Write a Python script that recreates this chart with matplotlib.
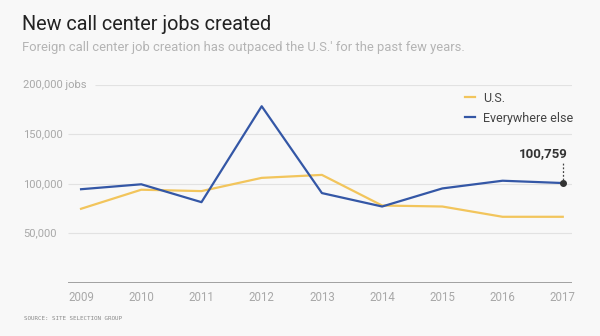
import matplotlib.pyplot as plt

# Yearly new call center jobs
years = [2009, 2010, 2011, 2012, 2013, 2014, 2015, 2016, 2017]
us_jobs = [74700, 94000, 92600, 106000, 109000, 78000, 77000, 66600, 66600]
elsewhere_jobs = [94500, 99500, 81400, 178500, 90600, 77000, 95300, 103100, 100759]

ytick_values = [50000, 100000, 150000, 200000]
ytick_labels = ["50,000", "100,000", "150,000", "200,000 jobs"]

bg = "#f8f8f8"
yellow = "#f2c55c"
blue = "#3457a6"
grey = "#a8a8a8"

plt.rcParams["font.family"] = ["Roboto", "DejaVu Sans"]

fig = plt.figure(figsize=(6, 3.36), dpi=100, facecolor=bg)
ax = fig.add_axes([0.113, 0.159, 0.84, 0.588], facecolor=bg)

ax.set_xlim(2008.78, 2017.15)
ax.set_ylim(0, 200000)

# Horizontal gridlines; the top one starts after its "jobs" label
for v in ytick_values:
    x0 = 2009.23 if v == 200000 else 2008.78
    ax.hlines(v, x0, 2017.15, color="#e2e2e2", lw=0.8, zorder=1)
ax.axhline(0, color="#9a9a9a", lw=1.3, zorder=2)

ax.plot(years, us_jobs, color=yellow, lw=1.6, label="U.S.", zorder=3)
ax.plot(years, elsewhere_jobs, color=blue, lw=1.6, label="Everywhere else", zorder=4)

# Callout on the last point
last_x, last_y = years[-1], elsewhere_jobs[-1]
ax.plot([last_x], [last_y], "o", color="#333333", ms=4, zorder=5)
ax.vlines(last_x, last_y + 3000, last_y + 20000, color="#444444", lw=0.9,
          linestyles=(0, (1.5, 1.5)), zorder=5)
ax.text(last_x + 0.08, last_y + 23000, f"{last_y:,}", ha="right", va="bottom",
        fontsize=9.5, fontweight="bold", color="#333333")

for s in ax.spines.values():
    s.set_visible(False)
ax.set_xticks(years)
ax.set_xticklabels([str(y) for y in years], fontsize=8.3, color=grey)
ax.tick_params(axis="x", length=0, pad=6)
ax.set_yticks([])

for v, lab in zip(ytick_values, ytick_labels):
    ax.text(0.038, ax.transData.transform((0, v))[1] / fig.bbox.height, lab,
            transform=fig.transFigure, ha="left", va="center",
            fontsize=8, color=grey)

leg = ax.legend(loc="upper left", bbox_to_anchor=(0.775, 0.727),
                bbox_transform=fig.transFigure, frameon=False, borderpad=0,
                borderaxespad=0, fontsize=9, handlelength=0.8,
                handletextpad=0.65, labelspacing=0.55)
for t in leg.get_texts():
    t.set_color("#444444")

fig.text(0.037, 0.928, "New call center jobs created", fontsize=14.3,
         color="#222222", ha="left", va="center")
fig.text(0.037, 0.86,
         "Foreign call center job creation has outpaced the U.S.' for the past few years.",
         fontsize=9.4, color="#b4b4b4", ha="left", va="center")
fig.text(0.04, 0.053, "SOURCE: SITE SELECTION GROUP", fontsize=4.2,
         color="#8a8a8a", ha="left", va="center", fontfamily="DejaVu Sans Mono")

fig.savefig("out.png", dpi=100, facecolor=bg)
